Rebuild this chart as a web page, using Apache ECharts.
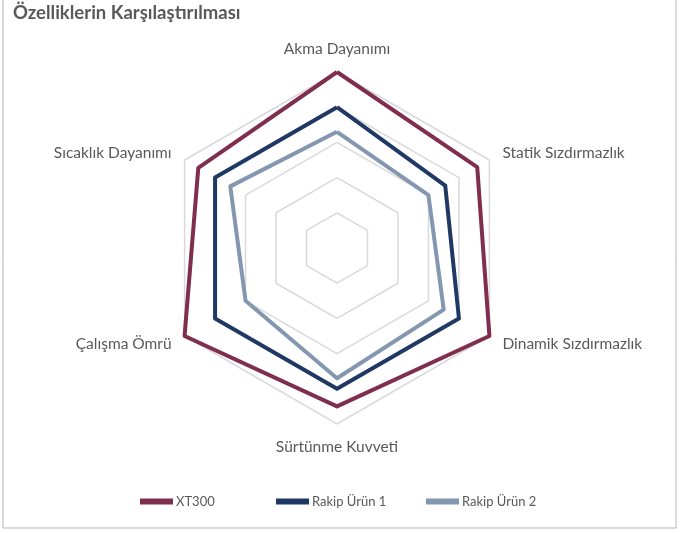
<!DOCTYPE html>
<html><head><meta charset="utf-8">
<script src="https://cdn.jsdelivr.net/npm/echarts@6/dist/echarts.min.js"></script>
<style>html,body{margin:0;padding:0;background:#fff}#c{width:688px;height:533px}</style>
</head><body><div id="c"></div>
<script>
// Indicators listed counterclockwise from top (ECharts radar order)
const indicators = ['Akma Dayanımı','Sıcaklık Dayanımı','Çalışma Ömrü','Sürtünme Kuvveti','Dinamik Sızdırmazlık','Statik Sızdırmazlık'];
const maxValue = 10;
const seriesNames = ['XT300','Rakip Ürün 1','Rakip Ürün 2'];
const xt300 = [10, 9.1, 10, 9, 10, 9.2];
const rakip1 = [8, 8, 8, 8, 8, 7.1];
const rakip2 = [6.6, 7, 6, 7.4, 7, 6];
const colors = ['#7f2e4d','#1f3864','#8497b0'];
const legendLeft = [140, 276, 426];

const chart = echarts.init(document.getElementById('c'));
const font = 'Lato, "Open Sans", sans-serif';
chart.setOption({
  animation:false,
  textStyle:{fontFamily:font},
  title:{text:'Özelliklerin Karşılaştırılması',left:13,top:4,padding:0,
    textStyle:{fontSize:18.5,fontWeight:'bold',color:'#595959',fontFamily:font}},
  graphic:[{type:'rect',shape:{x:3,y:-2,width:673,height:530},
    style:{fill:'none',stroke:'#b5b5b5',lineWidth:1},silent:true}],
  legend: seriesNames.map((n,i)=>({
    data:[n],left:legendLeft[i],top:495,padding:0,icon:'rect',itemWidth:33,itemHeight:6,itemGap:0,
    textStyle:{fontSize:13,color:'#595959',padding:[0,0,0,-2],fontFamily:font}
  })),
  radar:{
    center:[337,248],radius:176,splitNumber:5,
    indicator:indicators.map(n=>({name:n,max:maxValue,min:0})),
    axisName:{color:'#595959',fontSize:15.5,fontFamily:font},
    nameGap:15,
    axisLine:{show:false},
    splitLine:{lineStyle:{color:'#d9d9d9',width:1.5}},
    splitArea:{show:false}
  },
  series:[{
    type:'radar',symbol:'none',
    data:[xt300,rakip1,rakip2].map((v,i)=>({
      name:seriesNames[i],value:v,
      lineStyle:{color:colors[i],width:4},
      itemStyle:{color:colors[i]}
    }))
  }]
});
</script></body></html>
